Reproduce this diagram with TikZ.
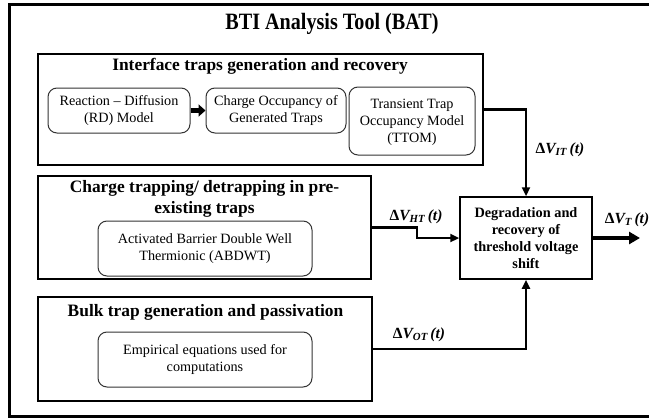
\documentclass[tikz,border=0pt]{standalone}
\usepackage{fontspec}
\setmainfont{Liberation Serif}
\newfontfamily\narrowserif[FakeStretch=0.86]{Liberation Serif}
\usetikzlibrary{arrows.meta}

% threshold voltage shift label
\newcommand{\dV}[1]{Δ\textit{V\textsubscript{#1}\,(t)}}

\begin{document}
\begin{tikzpicture}[x=1pt, y=-1pt,
    section/.style={draw, line width=1.8pt, inner sep=0pt},
    model/.style={draw=black!80, line width=1pt, rounded corners=9pt, align=center, inner sep=0pt, font=\fontsize{14.2}{17}\selectfont},
    heading/.style={align=center, font=\bfseries\fontsize{17.4}{21}\selectfont},
    link/.style={line width=2.4pt, -{Triangle[length=9pt,width=8pt]}},
    dv/.style={font=\bfseries\fontsize{15.5}{18}\selectfont}]

    \useasboundingbox (0,0) rectangle (649,418);
    \draw[line width=3pt] (9,4) rectangle (656,416);
    \node[font=\narrowserif\bfseries\fontsize{23.4}{28}\selectfont] (title) at (332,24) {BTI Analysis Tool (BAT)};

    % interface traps
    \node[section, minimum width=445pt, minimum height=111pt] (itbox) at (260.5,109.5) {};
    \node[heading] (ittitle) at (260,66) {Interface traps generation and recovery};
    \node[model, minimum width=142pt, minimum height=45pt] (rd) at (119,110.5) {Reaction -- Diffusion\\(RD) Model};
    \node[model, minimum width=140pt, minimum height=45pt] (occ) at (276,110.5) {Charge Occupancy of\\Generated Traps};
    \node[model, minimum width=126pt, minimum height=68pt, text depth=-6pt] (ttom) at (412,121) {Transient Trap\\Occupancy Model\\(TTOM)};
    \draw[line width=5pt, -{Triangle[length=7pt,width=12pt]}] (rd.east) -- (occ.west);

    % pre-existing traps
    \node[section, minimum width=333pt, minimum height=103pt] (htbox) at (204.5,227.5) {};
    \node[heading] (httitle) at (204.5,198.5) {Charge trapping/ detrapping in pre-\\existing traps};
    \node[model, minimum width=214pt, minimum height=55pt] (abdwt) at (205,248.5) {Activated Barrier Double Well\\Thermionic (ABDWT)};

    % bulk traps
    \node[section, minimum width=334pt, minimum height=104pt] (otbox) at (205,349) {};
    \node[heading] (ottitle) at (205.5,312) {Bulk trap generation and passivation};
    \node[model, minimum width=214pt, minimum height=55pt] (emp) at (205,359.5) {Empirical equations used for\\computations};

    % total shift
    \node[draw, line width=1.5pt, minimum width=132pt, minimum height=82pt, align=center, font=\bfseries\fontsize{14.3}{17}\selectfont] (deg) at (526,238) {Degradation and\\recovery of\\threshold voltage\\shift};

    \draw[link] (itbox.east) -| (deg.north);
    \draw[link] (htbox.east) -- ++(45,0) |- (deg.west);
    \draw[link] (otbox.east) -| (deg.south);
    \coordinate (vt) at (640,238);
    \draw[line width=4pt, -{Triangle[length=11pt,width=12pt]}] (deg.east) -- (vt);

    \node[dv] (lit) at (560,150) {\dV{IT}};
    \node[dv] (lht) at (416,217) {\dV{HT}};
    \node[dv] (lot) at (419,335) {\dV{OT}};
    \node[dv] (lt) at (627,220) {\dV{T}};

\end{tikzpicture}
\end{document}
